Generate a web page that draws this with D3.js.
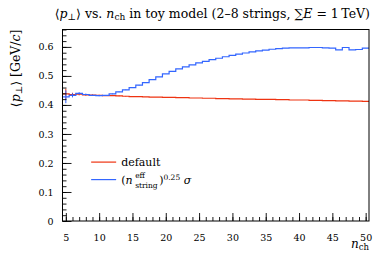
<!DOCTYPE html>
<html>
<head>
<meta charset="utf-8">
<script src="https://cdn.jsdelivr.net/npm/d3@7"></script>
<style>
  body { margin: 0; background: #fff; }
  svg { display: block; font-family: "DejaVu Serif", "Liberation Serif", serif; }
</style>
</head>
<body>
<div id="chart"></div>
<script>
// Bin centres (n_ch), one bin per integer
const nch = [5, 6, 7, 8, 9, 10, 11, 12, 13, 14, 15, 16, 17, 18, 19, 20, 21, 22, 23, 24, 25, 26, 27,
  28, 29, 30, 31, 32, 33, 34, 35, 36, 37, 38, 39, 40, 41, 42, 43, 44, 45, 46, 47, 48, 49, 50];

// <p_T> for the default model
const defaultVals = [0.438, 0.436, 0.437, 0.435, 0.434, 0.433, 0.432, 0.432, 0.431, 0.430, 0.429, 0.429,
  0.428, 0.427, 0.427, 0.426, 0.426, 0.425, 0.425, 0.424, 0.424, 0.423, 0.423, 0.422, 0.422, 0.421,
  0.421, 0.420, 0.420, 0.419, 0.419, 0.419, 0.418, 0.418, 0.417, 0.417, 0.417, 0.416, 0.416, 0.415,
  0.415, 0.414, 0.414, 0.413, 0.413, 0.412];
const defaultErr = [0.018, 0.006, 0.004, 0.003, 0.002, 0.002, 0.001, 0.001, 0.001, 0.001, 0.001, 0.001,
  0, 0, 0, 0, 0, 0, 0, 0, 0, 0, 0, 0, 0, 0, 0, 0, 0, 0, 0, 0, 0, 0, 0, 0, 0, 0, 0, 0, 0, 0, 0, 0, 0, 0];

// <p_T> for the (n_string^eff)^0.25 sigma model
const scaledVals = [0.428, 0.433, 0.440, 0.436, 0.433, 0.432, 0.433, 0.438, 0.445, 0.452, 0.460, 0.468,
  0.477, 0.487, 0.497, 0.507, 0.516, 0.524, 0.531, 0.538, 0.545, 0.550, 0.556, 0.561, 0.566, 0.571,
  0.575, 0.579, 0.583, 0.586, 0.589, 0.592, 0.594, 0.596, 0.597, 0.597, 0.597, 0.598, 0.598, 0.597,
  0.596, 0.590, 0.598, 0.590, 0.591, 0.596];
const scaledErr = [0.022, 0.007, 0.004, 0.003, 0.002, 0.002, 0.001, 0.001, 0.001, 0.001, 0.001, 0.001,
  0, 0, 0, 0, 0, 0, 0, 0, 0, 0, 0, 0, 0, 0, 0, 0, 0, 0, 0, 0, 0, 0, 0, 0, 0, 0, 0, 0, 0, 0, 0, 0, 0, 0];

const xTicks = [5, 10, 15, 20, 25, 30, 35, 40, 45, 50];
const yTicks = [0, 0.1, 0.2, 0.3, 0.4, 0.5, 0.6];

const W = 375, H = 255;
const margin = { top: 29.5, right: 6, bottom: 34, left: 62.5 };
const width = W - margin.left - margin.right;
const height = H - margin.top - margin.bottom;

const svg = d3.select("#chart").append("svg")
  .attr("width", W)
  .attr("height", H);

const g = svg.append("g")
  .attr("transform", `translate(${margin.left},${margin.top})`);

const x = d3.scaleLinear().domain([4.5, 50.5]).range([0, width]);
const y = d3.scaleLinear().domain([0, 0.66]).range([height, 0]);

// Step histogram path from bin values
function stepPoints(vals) {
  const pts = [];
  nch.forEach((n, i) => {
    pts.push([n - 0.5, vals[i]]);
    pts.push([n + 0.5, vals[i]]);
  });
  return pts;
}
const line = d3.line().x(d => x(d[0])).y(d => y(d[1]));

const series = [
  { name: "default", vals: defaultVals, err: defaultErr, color: "#ee3311" },
  { name: "scaled", vals: scaledVals, err: scaledErr, color: "#3366ff" }
];

const plot = g.append("g");
series.forEach(s => {
  // error bars
  plot.selectAll(null)
    .data(nch.filter((n, i) => s.err[i] > 0))
    .enter().append("line")
    .attr("x1", n => x(n)).attr("x2", n => x(n))
    .attr("y1", n => y(s.vals[nch.indexOf(n)] - s.err[nch.indexOf(n)]))
    .attr("y2", n => y(s.vals[nch.indexOf(n)] + s.err[nch.indexOf(n)]))
    .attr("stroke", s.color)
    .attr("stroke-width", 1);

  plot.append("path")
    .attr("d", line(stepPoints(s.vals)))
    .attr("fill", "none")
    .attr("stroke", s.color)
    .attr("stroke-width", 1.2);
});

// Axes: ticks inside the frame, major + minor
const xAxis = g.append("g").attr("transform", `translate(0,${height})`);
xAxis.call(d3.axisBottom(x).tickValues(d3.range(5, 51, 1)).tickSize(-4).tickFormat(""))
  .call(a => a.select(".domain").remove());
xAxis.append("g").call(d3.axisBottom(x).tickValues(xTicks).tickSize(-8).tickPadding(13).tickFormat(d3.format("d")))
  .call(a => a.select(".domain").remove());

const yAxis = g.append("g");
yAxis.call(d3.axisLeft(y).tickValues(d3.range(0, 0.661, 0.02)).tickSize(-4).tickFormat(""))
  .call(a => a.select(".domain").remove());
yAxis.append("g").call(d3.axisLeft(y).tickValues(yTicks).tickSize(-9).tickPadding(9).tickFormat(d => d === 0 ? "0" : d3.format(".1f")(d)))
  .call(a => a.select(".domain").remove());

g.selectAll(".tick line").attr("stroke", "#000").attr("stroke-width", 0.9);
g.selectAll(".tick text").attr("font-family", "DejaVu Serif, serif").attr("font-size", 9.5).attr("fill", "#000");

// Frame
g.append("rect")
  .attr("width", width).attr("height", height)
  .attr("fill", "none").attr("stroke", "#000").attr("stroke-width", 1);

// Title
const title = svg.append("text")
  .attr("x", margin.left + width + 1).attr("y", 18)
  .attr("text-anchor", "end")
  .attr("font-size", 12.5);
title.append("tspan").text("\u27e8");
title.append("tspan").attr("font-style", "italic").text("p");
title.append("tspan").attr("font-size", 9).attr("dy", 2).text("\u22a5");
title.append("tspan").attr("dy", -2).text("\u27e9 vs. ");
title.append("tspan").attr("font-style", "italic").text("n");
title.append("tspan").attr("font-size", 9).attr("dy", 2).text("ch");
title.append("tspan").attr("dy", -2).text(" in toy model (2\u20138 strings, \u2211");
title.append("tspan").attr("font-style", "italic").text("E");
title.append("tspan").text(" = 1\u2009TeV)");

// Y label
const ylab = svg.append("text")
  .attr("transform", `translate(20,${margin.top}) rotate(-90)`)
  .attr("text-anchor", "end")
  .attr("font-size", 12.5);
ylab.append("tspan").text("\u27e8");
ylab.append("tspan").attr("font-style", "italic").text("p");
ylab.append("tspan").attr("font-size", 9).attr("dy", 2).text("\u22a5");
ylab.append("tspan").attr("dy", -2).text("\u27e9 [GeV/");
ylab.append("tspan").attr("font-style", "italic").text("c");
ylab.append("tspan").text("]");

// X label
const xlab = svg.append("text")
  .attr("x", margin.left + width).attr("y", 248)
  .attr("text-anchor", "end")
  .attr("font-size", 12);
xlab.append("tspan").attr("font-style", "italic").text("n");
xlab.append("tspan").attr("font-size", 8.5).attr("dy", 2).text("ch");

// Legend
const legX = x(8.8), legY = y(0.203);
const leg = g.append("g").attr("transform", `translate(${legX},${legY})`);
leg.append("line").attr("x1", 0).attr("x2", 25).attr("y1", 0).attr("y2", 0)
  .attr("stroke", series[0].color).attr("stroke-width", 1.2);
leg.append("text").attr("x", 30).attr("y", 4).attr("font-size", 11).text("default");
leg.append("line").attr("x1", 0).attr("x2", 25).attr("y1", 17.5).attr("y2", 17.5)
  .attr("stroke", series[1].color).attr("stroke-width", 1.2);
// (n^eff_string)^0.25 sigma, with the stacked scripts as separate texts
leg.append("text").attr("x", 30).attr("y", 21.5).attr("font-size", 11)
  .html('(<tspan font-style="italic">n</tspan>');
leg.append("text").attr("x", 44).attr("y", 16).attr("font-size", 7.5).text("eff");
leg.append("text").attr("x", 44).attr("y", 25.5).attr("font-size", 7.5).text("string");
const t2 = leg.append("text").attr("x", 68).attr("y", 21.5).attr("font-size", 11);
t2.append("tspan").text(")");
t2.append("tspan").attr("font-size", 7.5).attr("dy", -4).text("0.25");
t2.append("tspan").attr("dy", 4).attr("font-style", "italic").text(" \u03c3");
</script>
</body>
</html>
